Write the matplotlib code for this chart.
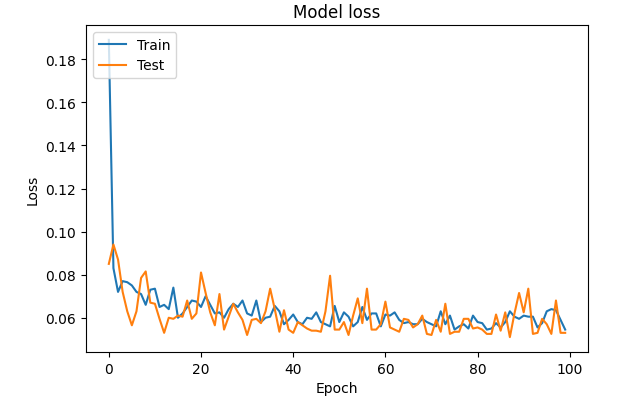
import matplotlib
matplotlib.use("Agg")
import matplotlib.pyplot as plt

train_loss = [0.189, 0.083, 0.072, 0.077, 0.0765, 0.075, 0.072, 0.071, 0.066, 0.073,
              0.0735, 0.065, 0.066, 0.064, 0.074, 0.060, 0.062, 0.065, 0.068, 0.0675,
              0.065, 0.070, 0.066, 0.062, 0.0625, 0.060, 0.064, 0.0665, 0.065, 0.068,
              0.062, 0.061, 0.068, 0.058, 0.060, 0.0605, 0.0655, 0.063, 0.057, 0.059,
              0.0615, 0.058, 0.057, 0.060, 0.0595, 0.0625, 0.058, 0.057, 0.056, 0.0655,
              0.058, 0.0625, 0.0605, 0.056, 0.058, 0.065, 0.059, 0.062, 0.062, 0.056,
              0.0615, 0.061, 0.0625, 0.059, 0.0575, 0.058, 0.057, 0.057, 0.0595, 0.058,
              0.057, 0.056, 0.063, 0.057, 0.061, 0.0545, 0.056, 0.057, 0.055, 0.061,
              0.058, 0.0575, 0.0545, 0.055, 0.0575, 0.0555, 0.058, 0.063, 0.0605, 0.0595,
              0.061, 0.0605, 0.0605, 0.0555, 0.0575, 0.063, 0.064, 0.0635, 0.059, 0.0545]

test_loss = [0.085, 0.094, 0.087, 0.072, 0.063, 0.0565, 0.063, 0.0785, 0.0815, 0.067,
             0.0665, 0.0595, 0.053, 0.060, 0.0595, 0.061, 0.0605, 0.068, 0.0595, 0.062,
             0.081, 0.0715, 0.0625, 0.0565, 0.071, 0.0545, 0.0605, 0.0665, 0.0625, 0.059,
             0.052, 0.059, 0.0595, 0.0575, 0.063, 0.0735, 0.064, 0.0535, 0.0635, 0.0545,
             0.053, 0.058, 0.0565, 0.055, 0.054, 0.054, 0.0535, 0.063, 0.0795, 0.0545,
             0.0545, 0.058, 0.052, 0.061, 0.069, 0.0575, 0.0735, 0.0545, 0.0545, 0.057,
             0.0675, 0.0555, 0.0545, 0.0535, 0.0595, 0.059, 0.0555, 0.057, 0.061, 0.0525,
             0.052, 0.059, 0.0535, 0.0665, 0.0525, 0.0535, 0.0535, 0.0595, 0.0595, 0.055,
             0.0555, 0.0545, 0.0525, 0.0525, 0.0615, 0.054, 0.0625, 0.051, 0.062, 0.0715,
             0.0625, 0.0735, 0.0525, 0.053, 0.0595, 0.057, 0.0525, 0.068, 0.053, 0.053]

series_labels = ["Train", "Test"]

fig = plt.figure(figsize=(6.23, 4.10), dpi=100)
ax = fig.add_axes([86/623, 1 - 353/410, (588 - 86)/623, (353 - 26)/410])
ax.plot(train_loss, label=series_labels[0])
ax.plot(test_loss, label=series_labels[1])
ax.set_title("Model loss")
ax.set_xlabel("Epoch")
ax.set_ylabel("Loss")
ax.legend(loc="upper left")
fig.savefig("out.png", dpi=100)
